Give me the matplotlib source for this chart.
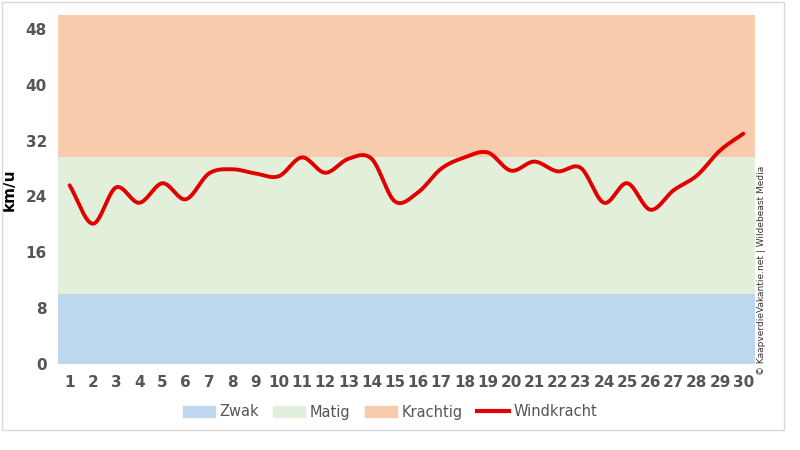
import numpy as np
import matplotlib.pyplot as plt
from matplotlib.patches import Patch
from matplotlib.lines import Line2D

days = list(range(1, 31))
wind = [25.6, 20.1, 25.3, 23.1, 25.9, 23.6, 27.3, 27.9, 27.3, 26.9,
        29.6, 27.4, 29.4, 29.4, 23.3, 24.6, 28.0, 29.6, 30.3, 27.7,
        29.0, 27.6, 28.1, 23.1, 25.9, 22.1, 24.9, 27.0, 30.6, 33.0]
zwak = 10
matig = 19.6
krachtig = 20.4

def catmull(x, y, n=20):
    x = np.asarray(x, float); y = np.asarray(y, float)
    P = np.vstack([x, y]).T
    P = np.vstack([2*P[0]-P[1], P, 2*P[-1]-P[-2]])
    out = []
    for i in range(1, len(P)-2):
        p0, p1, p2, p3 = P[i-1], P[i], P[i+1], P[i+2]
        t = np.linspace(0, 1, n, endpoint=False)[:, None]
        pts = 0.5*((2*p1) + (-p0+p2)*t + (2*p0-5*p1+4*p2-p3)*t**2 + (-p0+3*p1-3*p2+p3)*t**3)
        out.append(pts)
    out.append(P[-2][None, :])
    o = np.vstack(out)
    return o[:, 0], o[:, 1]

fig = plt.figure(figsize=(8, 4.5), dpi=100)
ax = fig.add_axes([58/800, 1-364/450, 697/800, 349/450])
xs = [0.5, 30.5]
c1, c2, c3 = '#bdd7ee', '#e2efda', '#f8cbad'
ax.fill_between(xs, 0, zwak, color=c1, lw=0)
ax.fill_between(xs, zwak, zwak+matig, color=c2, lw=0)
ax.fill_between(xs, zwak+matig, zwak+matig+krachtig, color=c3, lw=0)
sx, sy = catmull(days, wind)
ax.plot(sx, sy, color='#e00000', lw=2.8, solid_capstyle='round')
ax.set_xlim(0.5, 30.5)
ax.set_ylim(0, 50)
ax.set_yticks(range(0, 49, 8))
ax.set_xticks(days)
for s in ax.spines.values():
    s.set_visible(False)
ax.tick_params(length=0, labelsize=11, colors='#555555', pad=8)
for l in ax.get_xticklabels() + ax.get_yticklabels():
    l.set_fontweight('bold')
ax.set_ylabel('km/u', fontsize=11, fontweight='bold', labelpad=6)
handles = [Patch(color=c1, label='Zwak'), Patch(color=c2, label='Matig'),
           Patch(color=c3, label='Krachtig'), Line2D([], [], color='#e00000', lw=3, label='Windkracht')]
fig.legend(handles=handles, loc='center', bbox_to_anchor=(390/800, 1-412/450), ncol=4,
           frameon=False, fontsize=10.5, handlelength=2.2, handletextpad=0.3, columnspacing=1.0,
           labelcolor='#555555')
fig.text(762/800, 1-270/450, '© KaapverdieVakantie.net | Wildebeast Media', rotation=90,
         fontsize=6.5, ha='center', va='center', color='#333333')
fig.patches.append(plt.Rectangle((0.002, 0.045), 0.978, 0.95, transform=fig.transFigure,
                                 fill=False, ec='#d9d9d9', lw=1))
fig.savefig('out.png', dpi=100)
